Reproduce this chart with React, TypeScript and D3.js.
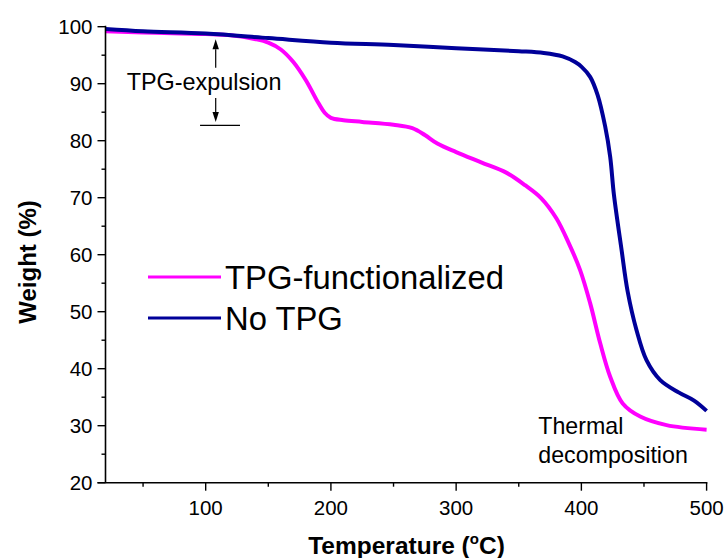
import React from "react";
import * as d3 from "d3";

// TGA curves: temperature (°C) vs weight (%)
const tpgTemp = [20, 50, 80, 100, 120, 140, 150, 160, 170, 180, 190, 195, 200, 210, 225, 250, 265, 275, 285, 300, 320, 340, 355, 368, 380, 390, 399, 407, 415, 423, 433, 447, 468, 500];
const tpgWeight = [99.2, 99.0, 98.8, 98.7, 98.5, 97.8, 97.2, 96.0, 93.8, 90.6, 86.6, 84.9, 84.0, 83.6, 83.3, 82.8, 82.2, 81.0, 79.5, 78.0, 76.2, 74.4, 72.2, 69.9, 66.4, 62.0, 57.3, 51.5, 44.5, 38.6, 33.9, 31.6, 30.1, 29.3];

const noTpgTemp = [20, 50, 100, 150, 200, 250, 300, 350, 370, 385, 395, 400, 407, 413, 419, 423, 426, 432, 437, 444, 452, 463, 478, 490, 500];
const noTpgWeight = [99.6, 99.2, 98.8, 98.0, 97.2, 96.8, 96.2, 95.7, 95.4, 94.8, 93.8, 93.0, 91.2, 88.0, 82.5, 77.2, 70.5, 61.0, 53.5, 46.8, 41.5, 38.0, 35.8, 34.4, 32.6];

const seriesNames = ["TPG-functionalized", "No TPG"];
const seriesColors = ["#ff00ff", "#000099"];

const xTicks = [100, 200, 300, 400, 500];
const xMinorTicks = [50, 150, 250, 350, 450];
const yTicks = [20, 30, 40, 50, 60, 70, 80, 90, 100];
const yMinorTicks = [25, 35, 45, 55, 65, 75, 85, 95];

// "TPG-expulsion" marker: temperature of the arrows, weights of tips/tails, bar span
const expulsionT = 108;
const expulsionUp = [92.8, 97.8];
const expulsionDown = [87.5, 83.3];
const expulsionBar = { t0: 95.5, t1: 127.4, w: 82.7 };

const W = 726;
const H = 558;
const margin = { top: 26.7, right: 20, bottom: 75.3, left: 105.5 };
const font = "'Liberation Sans', Arial, sans-serif";

export default function App() {
  const x = d3.scaleLinear().domain([20, 500]).range([margin.left, 706.6]);
  const y = d3.scaleLinear().domain([20, 100]).range([H - margin.bottom, margin.top]);

  const line = d3
    .line<[number, number]>()
    .x(d => x(d[0]))
    .y(d => y(d[1]))
    .curve(d3.curveCatmullRom.alpha(0.5));

  const series = [
    tpgTemp.map((t, i) => [t, tpgWeight[i]] as [number, number]),
    noTpgTemp.map((t, i) => [t, noTpgWeight[i]] as [number, number]),
  ];

  const x0 = x(20);
  const y0 = y(20);

  const arrow = (t: number, from: number, to: number, key: string) => {
    const xa = x(t);
    const ya = y(from);
    const yb = y(to);
    const dir = yb < ya ? -1 : 1;
    const head = 10;
    return (
      <g key={key}>
        <line x1={xa} x2={xa} y1={ya} y2={yb - dir * head} stroke="#000" strokeWidth={1.2} />
        <path
          d={`M${xa},${yb} L${xa - 3.2},${yb - dir * head} L${xa + 3.2},${yb - dir * head} Z`}
          fill="#000"
        />
      </g>
    );
  };

  return (
    <svg
      width={W}
      height={H}
      style={{ position: "absolute", left: 0, top: 0, background: "#fff" }}
      fontFamily={font}
    >
      {/* data lines */}
      {[0, 1].map(i => (
        <path
          key={seriesNames[i]}
          d={line(series[i]) || ""}
          fill="none"
          stroke={seriesColors[i]}
          strokeWidth={4}
          strokeLinejoin="round"
        />
      ))}

      {/* axes */}
      <line x1={x0} x2={x0} y1={y0} y2={y(100) - 1} stroke="#000" strokeWidth={1.6} />
      <line x1={x0 - 8} x2={x(500) + 0.8} y1={y0} y2={y0} stroke="#000" strokeWidth={1.6} />

      {yTicks.map(v => (
        <g key={"yt" + v}>
          <line x1={x0 - 8} x2={x0} y1={y(v)} y2={y(v)} stroke="#000" strokeWidth={1.4} />
          <text x={x0 - 13} y={y(v)} dy="0.36em" textAnchor="end" fontSize={20.5}>
            {v}
          </text>
        </g>
      ))}
      {yMinorTicks.map(v => (
        <line key={"ym" + v} x1={x0 - 4} x2={x0} y1={y(v)} y2={y(v)} stroke="#000" strokeWidth={1.4} />
      ))}

      {xTicks.map(v => (
        <g key={"xt" + v}>
          <line x1={x(v)} x2={x(v)} y1={y0} y2={y0 + 8} stroke="#000" strokeWidth={1.4} />
          <text x={x(v)} y={y0 + 32} textAnchor="middle" fontSize={20.5}>
            {v}
          </text>
        </g>
      ))}
      {xMinorTicks.map(v => (
        <line key={"xm" + v} x1={x(v)} x2={x(v)} y1={y0} y2={y0 + 4} stroke="#000" strokeWidth={1.4} />
      ))}

      {/* axis titles */}
      <text x={406.5} y={554} textAnchor="middle" fontSize={24.5} fontWeight="bold">
        Temperature (
        <tspan fontSize={15} dy={-10}>o</tspan>
        <tspan dy={10}>C)</tspan>
      </text>
      <text
        transform="translate(36,262) rotate(-90)"
        textAnchor="middle"
        fontSize={24}
        fontWeight="bold"
      >
        Weight (%)
      </text>

      {/* legend */}
      {seriesNames.map((name, i) => (
        <g key={"lg" + name}>
          <line
            x1={148}
            x2={221}
            y1={277 + i * 41}
            y2={277 + i * 41}
            stroke={seriesColors[i]}
            strokeWidth={3}
          />
          <text x={225} y={277 + i * 41} dy="0.36em" fontSize={32.8}>
            {name}
          </text>
        </g>
      ))}

      {/* annotations */}
      <text x={126.7} y={90} fontSize={23.4}>TPG-expulsion</text>
      {arrow(expulsionT, expulsionUp[0], expulsionUp[1], "up")}
      {arrow(expulsionT, expulsionDown[0], expulsionDown[1], "down")}
      <line
        x1={x(expulsionBar.t0)}
        x2={x(expulsionBar.t1)}
        y1={y(expulsionBar.w)}
        y2={y(expulsionBar.w)}
        stroke="#000"
        strokeWidth={1.2}
      />

      <text x={538.3} y={434} fontSize={23.2}>Thermal</text>
      <text x={538.3} y={462.7} fontSize={23.2}>decomposition</text>
    </svg>
  );
}
